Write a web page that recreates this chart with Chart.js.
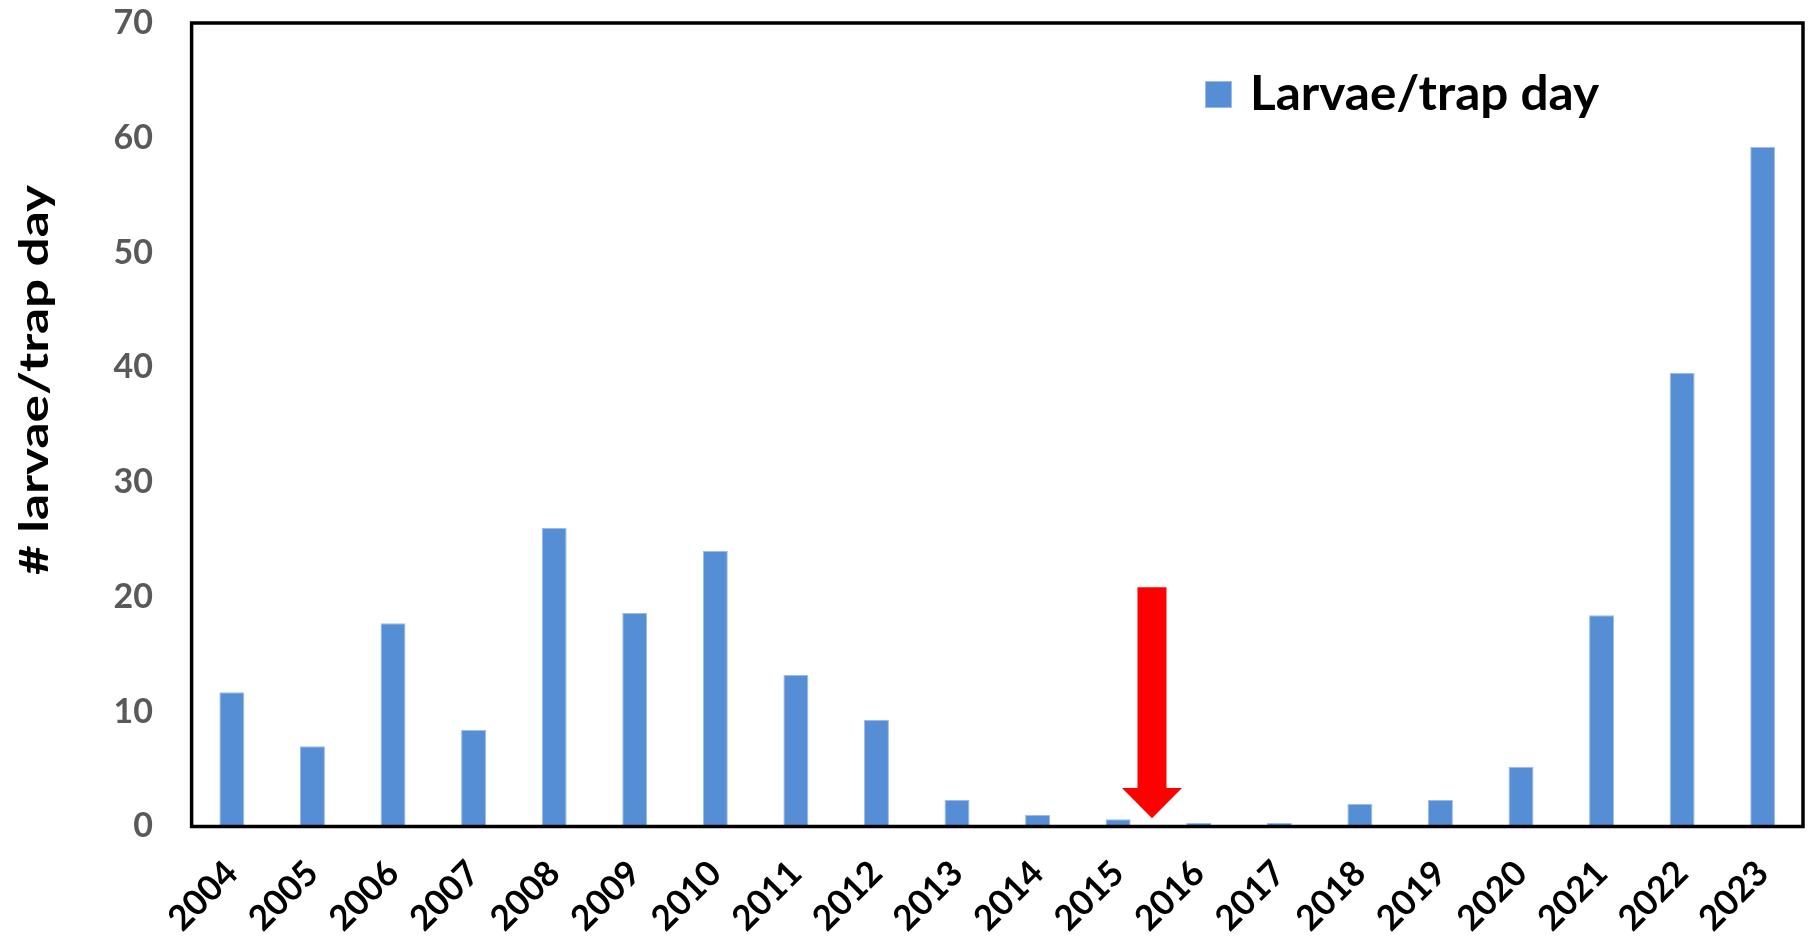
<!DOCTYPE html>
<html>
<head>
<meta charset="utf-8">
<script src="https://cdn.jsdelivr.net/npm/chart.js@4.4.1/dist/chart.umd.min.js"></script>
<style>
  html, body { margin: 0; padding: 0; background: #ffffff; }
  #wrap { width: 1810px; height: 943px; position: relative; }
</style>
</head>
<body>
<div id="wrap"><canvas id="c"></canvas></div>
<script>
// ---- data ----
const years = ['2004','2005','2006','2007','2008','2009','2010','2011','2012','2013',
               '2014','2015','2016','2017','2018','2019','2020','2021','2022','2023'];
const larvaePerTrapDay = [11.7, 7.0, 17.7, 8.4, 26.0, 18.6, 24.0, 13.2, 9.3, 2.3,
                          1.0, 0.63, 0.3, 0.3, 1.95, 2.3, 5.2, 18.4, 39.5, 59.2];
const seriesLabel = 'Larvae/trap day';
const yAxisTitle = '# larvae/trap day';
const yMin = 0, yMax = 70, yStep = 10;
// annotation arrow (category position, value at top, head base, tip)
const arrowMark = { x: 11.42, top: 20.85, headBase: 3.35, tip: 0.72 };

const BAR_COLOR = '#558ed5';
const FONT = 'Lato, "Open Sans", "DejaVu Sans", sans-serif';

const framePlugin = {
  id: 'frame',
  afterDraw(chart) {
    const {ctx, chartArea: a} = chart;
    ctx.save();
    ctx.strokeStyle = '#000000';
    ctx.lineWidth = 3.5;
    ctx.strokeRect(a.left, a.top, a.right - a.left, a.bottom - a.top);
    ctx.restore();
  }
};

const arrowPlugin = {
  id: 'arrow',
  afterDatasetsDraw(chart) {
    const {ctx, scales: {x, y}} = chart;
    const cx = x.getPixelForValue(arrowMark.x);
    const yt = y.getPixelForValue(arrowMark.top);
    const yb = y.getPixelForValue(arrowMark.headBase);
    const ytip = y.getPixelForValue(arrowMark.tip);
    const sw = 14.5, hw = 30;
    ctx.save();
    ctx.fillStyle = '#ff0000';
    ctx.beginPath();
    ctx.moveTo(cx - sw, yt);
    ctx.lineTo(cx + sw, yt);
    ctx.lineTo(cx + sw, yb);
    ctx.lineTo(cx + hw, yb);
    ctx.lineTo(cx, ytip);
    ctx.lineTo(cx - hw, yb);
    ctx.lineTo(cx - sw, yb);
    ctx.closePath();
    ctx.fill();
    ctx.restore();
  }
};

const textPlugin = {
  id: 'texts',
  afterDraw(chart) {
    const {ctx} = chart;
    ctx.save();
    // y axis title, rotated and stretched along its length
    ctx.font = 'bold 40px ' + FONT;
    ctx.fillStyle = '#000000';
    ctx.textAlign = 'center';
    ctx.textBaseline = 'alphabetic';
    const tw = ctx.measureText(yAxisTitle).width;
    const targetLen = 390;
    ctx.translate(48, 380);
    ctx.rotate(-Math.PI / 2);
    ctx.scale(targetLen / tw, 1);
    ctx.fillText(yAxisTitle, 0, 0);
    ctx.restore();

    // legend
    ctx.save();
    const ds = chart.data.datasets[0];
    ctx.fillStyle = ds.backgroundColor;
    ctx.fillRect(1205, 81, 27, 27);
    ctx.strokeStyle = '#9dbbe6';
    ctx.lineWidth = 1;
    ctx.strokeRect(1205.5, 81.5, 26, 26);
    ctx.font = 'bold 48px ' + FONT;
    ctx.fillStyle = '#000000';
    ctx.textAlign = 'left';
    ctx.textBaseline = 'alphabetic';
    const lw = ctx.measureText(ds.label).width;
    ctx.translate(1250, 110);
    ctx.scale(349 / lw, 1);
    ctx.fillText(ds.label, 0, 0);
    ctx.restore();
  }
};

new Chart(document.getElementById('c'), {
  type: 'bar',
  data: {
    labels: years,
    datasets: [{
      label: seriesLabel,
      data: larvaePerTrapDay,
      backgroundColor: BAR_COLOR,
      borderColor: '#9dbbe6',
      borderWidth: 1,
      categoryPercentage: 1.0,
      barPercentage: 0.31
    }]
  },
  options: {
    responsive: true,
    maintainAspectRatio: false,
    animation: false,
    layout: { padding: { left: 0, top: 23, right: 7, bottom: 0 } },
    plugins: {
      legend: { display: false },
      tooltip: { enabled: false },
      title: { display: false }
    },
    scales: {
      x: {
        grid: { display: false, drawTicks: false },
        border: { display: false },
        ticks: {
          color: '#000000',
          font: { family: FONT, size: 35, weight: 'bold' },
          minRotation: 45,
          maxRotation: 45,
          autoSkip: false,
          padding: 26
        },
        afterFit(scale) {
          scale.height = 116.5;
          scale.paddingLeft = 0; scale.paddingRight = 0;
          scale.paddingTop = 0; scale.paddingBottom = 0;
        }
      },
      y: {
        min: yMin,
        max: yMax,
        grid: { display: false, drawTicks: false },
        border: { display: false },
        ticks: {
          stepSize: yStep,
          color: '#595959',
          font: { family: FONT, size: 34, weight: 'bold' },
          padding: 38.6
        },
        afterFit(scale) {
          scale.width = 191.6;
          scale.paddingTop = 0; scale.paddingBottom = 0;
          scale.paddingLeft = 0; scale.paddingRight = 0;
        }
      }
    }
  },
  plugins: [framePlugin, arrowPlugin, textPlugin]
});
</script>
</body>
</html>
